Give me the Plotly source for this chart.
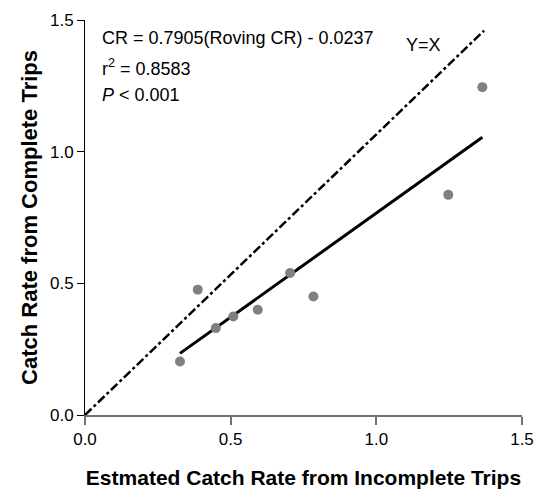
import plotly.graph_objects as go

# Data
incomplete_cr = [0.326, 0.387, 0.449, 0.509, 0.593, 0.704, 0.784, 1.247, 1.364]
complete_cr = [0.203, 0.476, 0.330, 0.374, 0.400, 0.539, 0.450, 0.836, 1.245]

slope = 0.7905
intercept = -0.0237
fit_x = [min(incomplete_cr), max(incomplete_cr)]
fit_y = [slope * v + intercept for v in fit_x]

# reference line as drawn in the picture
yx_x = [0.0, 1.37]
yx_y = [0.0, 1.46]

x_ticks = [0.0, 0.5, 1.0, 1.5]
y_ticks = [0.0, 0.5, 1.0, 1.5]
tick_text = ["0.0", "0.5", "1.0", "1.5"]

FONT = "Liberation Sans, Arial, sans-serif"

fig = go.Figure()
fig.add_trace(go.Scatter(x=yx_x, y=yx_y, mode="lines",
                         line=dict(color="black", width=2.5, dash="dashdot"),
                         showlegend=False, hoverinfo="skip"))
fig.add_trace(go.Scatter(x=fit_x, y=fit_y, mode="lines",
                         line=dict(color="black", width=3),
                         showlegend=False, hoverinfo="skip"))
fig.add_trace(go.Scatter(x=incomplete_cr, y=complete_cr, mode="markers",
                         marker=dict(color="#808080", size=10),
                         showlegend=False))

fig.update_layout(
    width=539, height=499,
    margin=dict(l=85, r=17, t=20, b=84),
    paper_bgcolor="white", plot_bgcolor="white",
    font=dict(family=FONT, size=17, color="black"),
    xaxis=dict(range=[0, 1.5], tickvals=x_ticks, ticktext=tick_text,
               showgrid=False, zeroline=False, showline=True,
               linecolor="#707070", linewidth=2,
               ticks="outside", ticklen=8, tickwidth=2, tickcolor="#707070",
               tickfont=dict(size=17, color="black"),
               automargin=False,
               title=dict(text="<b>Estmated Catch Rate from Incomplete Trips</b>",
                          font=dict(size=21, color="black"), standoff=22)),
    yaxis=dict(range=[0, 1.5], tickvals=y_ticks, ticktext=tick_text,
               showgrid=False, zeroline=False, showline=True,
               linecolor="black", linewidth=1,
               ticks="outside", ticklen=7, tickwidth=1, tickcolor="black",
               tickfont=dict(size=17, color="black"),
               automargin=False,
               title=dict(text="<b>Catch Rate from Complete Trips</b>",
                          font=dict(size=22, color="black"), standoff=6)),
)

ann_font = dict(family=FONT, size=18, color="black")
fig.add_annotation(x=0.05, y=1.43, xref="x", yref="y", xanchor="left", yanchor="middle",
                   text="CR = 0.7905(Roving CR) - 0.0237", showarrow=False, font=ann_font)
fig.add_annotation(x=0.05, y=1.32, xref="x", yref="y", xanchor="left", yanchor="middle",
                   text="r<sup>2</sup> = 0.8583", showarrow=False, font=ann_font)
fig.add_annotation(x=0.05, y=1.215, xref="x", yref="y", xanchor="left", yanchor="middle",
                   text="<i>P</i> < 0.001", showarrow=False, font=ann_font)
fig.add_annotation(x=1.095, y=1.405, xref="x", yref="y", xanchor="left", yanchor="middle",
                   text="Y=X", showarrow=False, font=ann_font)

fig.write_html("out.html", config={"displayModeBar": False},
               post_script="document.body.style.margin='0px';")
